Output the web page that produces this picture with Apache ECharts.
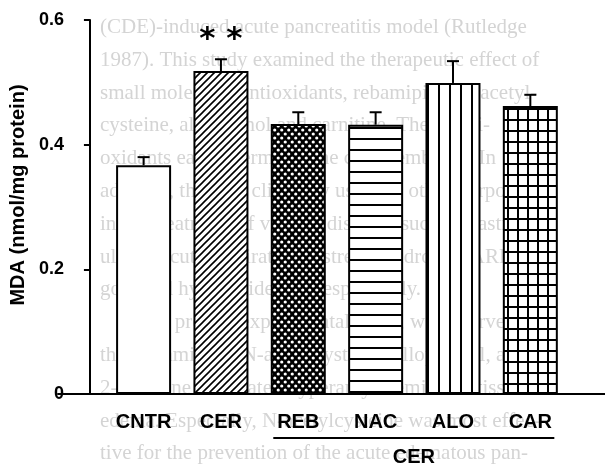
<!DOCTYPE html>
<html>
<head>
<meta charset="utf-8">
<script src="https://cdn.jsdelivr.net/npm/echarts@6/dist/echarts.min.js"></script>
<style>
  html, body { margin: 0; padding: 0; background: #fff; }
  #chart { width: 605px; height: 469px; }
</style>
</head>
<body>
<div id="chart"></div>
<script>
// MDA per group
const categories = ['CNTR', 'CER', 'REB', 'NAC', 'ALO', 'CAR'];
const mdaMean = [0.367, 0.518, 0.433, 0.432, 0.499, 0.462];
const mdaSem = [0.013, 0.019, 0.019, 0.020, 0.035, 0.018];
const sigMarks = ['', '* *', '', '', '', ''];
const yTicks = [0, 0.2, 0.4, 0.6];
const groupMembers = ['REB', 'CAR'];   // first and last of the bracketed group
const groupLabel = 'CER';

// faint show-through text of the scanned page
const pageLines = [
  '(CDE)-induced acute pancreatitis model (Rutledge',
  '1987). This study examined the therapeutic effect of',
  'small molecular antioxidants, rebamipide, N-acetyl-',
  'cysteine, allopurinol and carnitine. These anti-',
  'oxidants easily permeate the cell membrane. In',
  'addition, they are clinically used for other purposes',
  'in the treatment of various diseases such as gastric',
  'ulcers, acute respiratory distress syndrome (ARDS),',
  'gout and hyperlipidemia, respectively.',
  '    In the present experimental study, we observed',
  'that rebamipide, N-acetylcysteine, allopurinol, and',
  '2-carnitine attenuated hyperamylasemia and tissue',
  'edema. Especially, N-acetylcysteine was most effec-',
  'tive for the prevention of the acute edematous pan-'
];

// fill patterns
function makePattern(w, h, draw) {
  const c = document.createElement('canvas');
  c.width = w; c.height = h;
  const ctx = c.getContext('2d');
  ctx.fillStyle = '#fff';
  ctx.fillRect(0, 0, w, h);
  ctx.fillStyle = '#000';
  ctx.strokeStyle = '#000';
  draw(ctx, w, h);
  return { image: c, repeat: 'repeat' };
}
const patterns = [
  '#fff',
  makePattern(7, 7, (ctx, w, h) => {
    ctx.lineWidth = 1.6;
    ctx.beginPath();
    ctx.moveTo(-1, h + 1); ctx.lineTo(w + 1, -1);
    ctx.moveTo(-2, 2); ctx.lineTo(2, -2);
    ctx.moveTo(w - 2, h + 2); ctx.lineTo(w + 2, h - 2);
    ctx.stroke();
  }),
  makePattern(7, 8, (ctx) => {
    ctx.fillRect(0, 0, 7, 8);
    ctx.fillStyle = '#fff';
    [[1.75, 2], [5.25, 6]].forEach(p => {
      ctx.beginPath(); ctx.arc(p[0], p[1], 1.6, 0, Math.PI * 2); ctx.fill();
    });
  }),
  makePattern(4, 11, (ctx) => { ctx.fillRect(0, 6, 4, 2); }),
  makePattern(11, 4, (ctx) => { ctx.fillRect(9, 0, 2, 4); }),
  makePattern(10, 11, (ctx) => { ctx.fillRect(7, 0, 2, 11); ctx.fillRect(0, 9, 10, 2); })
];

const font = '"Liberation Sans", Arial, sans-serif';
const chart = echarts.init(document.getElementById('chart'));

const option = {
  animation: false,
  grid: [
    { left: 99, right: 36, top: 20, bottom: 75 },
    { left: 58, right: 0, top: 20, bottom: 75 }
  ],
  xAxis: [
    {
      type: 'category',
      gridIndex: 0,
      zlevel: 1,
      data: categories,
      axisLine: { show: false },
      axisTick: { show: false },
      axisLabel: { margin: 18, color: '#000', fontFamily: font, fontWeight: 'bold', fontSize: 20 }
    },
    {
      type: 'value',
      gridIndex: 1,
      zlevel: 1,
      min: 0, max: 1,
      axisLine: { show: true, lineStyle: { color: '#000', width: 2 } },
      axisTick: { show: false },
      axisLabel: { show: false },
      splitLine: { show: false }
    }
  ],
  yAxis: [
    {
      type: 'value',
      gridIndex: 0,
      zlevel: 1,
      min: yTicks[0],
      max: yTicks[yTicks.length - 1],
      interval: 0.2,
      offset: 15,
      name: 'MDA (nmol/mg protein)',
      nameLocation: 'middle',
      nameRotate: 90,
      nameGap: 50,
      nameTextStyle: { color: '#000', fontFamily: font, fontWeight: 'bold', fontSize: 20, padding: [0, 0, 0, 24] },
      axisLine: { show: true, lineStyle: { color: '#000', width: 2 } },
      axisTick: { show: true, length: 6, lineStyle: { color: '#000', width: 2 } },
      axisLabel: { margin: 26, color: '#000', fontFamily: font, fontWeight: 'bold', fontSize: 18 },
      splitLine: { show: false }
    },
    { type: 'value', gridIndex: 1, min: 0, max: 1, show: false }
  ],
  series: [
    {
      type: 'bar',
      xAxisIndex: 0, yAxisIndex: 0,
      zlevel: 1,
      barWidth: 55,
      z: 2,
      data: mdaMean.map((v, i) => ({
        value: v,
        itemStyle: { color: patterns[i], borderColor: '#000', borderWidth: 2 }
      }))
    },
    {
      type: 'custom',
      xAxisIndex: 0, yAxisIndex: 0,
      zlevel: 1,
      z: 3,
      data: categories.map((c, i) => [i, mdaMean[i], mdaSem[i]]),
      renderItem: function (params, api) {
        const i = api.value(0);
        const m = api.value(1);
        const s = api.value(2);
        const base = api.coord([i, m]);
        const top = api.coord([i, m + s]);
        const st = { stroke: '#000', lineWidth: 2 };
        const children = [
          { type: 'line', shape: { x1: base[0], y1: base[1], x2: top[0], y2: top[1] }, style: st },
          { type: 'line', shape: { x1: top[0] - 6, y1: top[1], x2: top[0] + 6, y2: top[1] }, style: st }
        ];
        if (sigMarks[i]) {
          children.push({
            type: 'text',
            style: {
              text: sigMarks[i], x: top[0], y: top[1] - 19,
              align: 'center', verticalAlign: 'middle',
              font: 'bold 31px "DejaVu Sans", sans-serif', fill: '#000'
            }
          });
        }
        return { type: 'group', children: children };
      }
    }
  ]
};
chart.setOption(option);

// group bracket under REB..CAR, plus faint page text behind everything
const x1 = chart.convertToPixel({ xAxisIndex: 0 }, groupMembers[0]) - 25;
const x2 = chart.convertToPixel({ xAxisIndex: 0 }, groupMembers[1]) + 24;
const graphics = pageLines.map((t, k) => ({
  type: 'text', silent: true, zlevel: 0, left: 100, top: 17 + k * 32.8,
  style: { text: t, font: '21px "Liberation Serif", serif', fill: '#d4d4d4' }
}));
graphics.push(
  { type: 'line', zlevel: 1, shape: { x1: x1, y1: 438, x2: x2, y2: 438 }, style: { stroke: '#000', lineWidth: 2 } },
  {
    type: 'text', zlevel: 1, x: (x1 + x2) / 2, y: 457,
    style: { text: groupLabel, align: 'center', verticalAlign: 'middle', font: 'bold 20px ' + font, fill: '#000' }
  }
);
chart.setOption({ graphic: graphics });
</script>
</body>
</html>
